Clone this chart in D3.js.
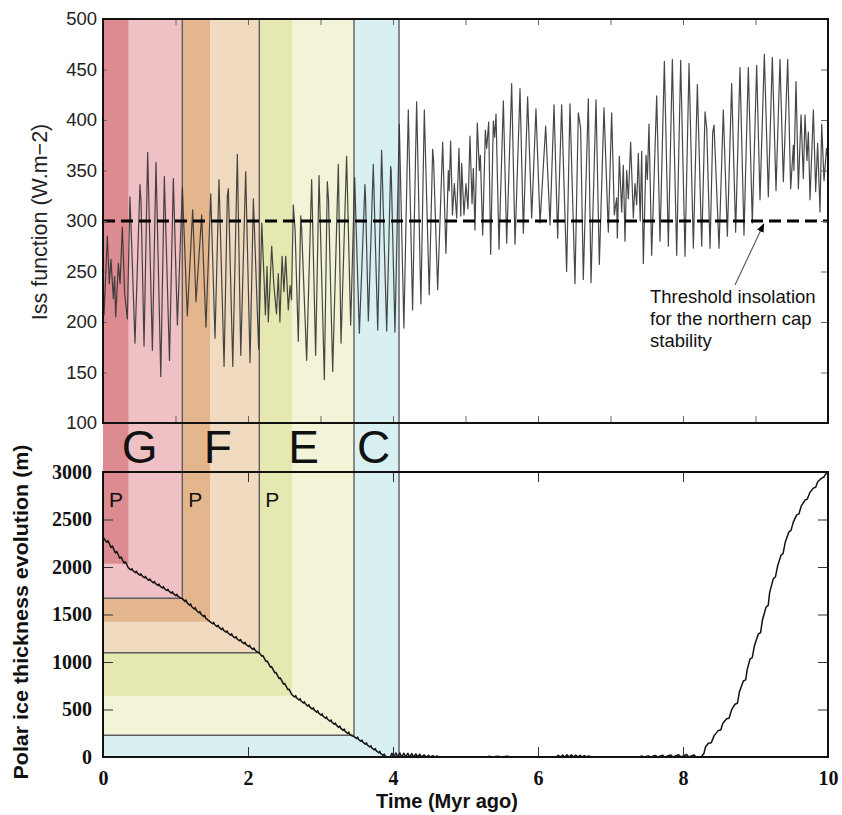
<!DOCTYPE html>
<html><head><meta charset="utf-8">
<script src="https://cdn.jsdelivr.net/npm/d3@7"></script>
<style>body{margin:0;background:#fff}svg{display:block}</style>
</head><body>
<script>
// ---------------- DATA ----------------
const phaseNames = ["G", "F", "E", "C"];
const phaseStart = [0, 1.094, 2.156, 3.462];
const phaseEnd = [1.094, 2.156, 3.462, 4.083];
const phaseDarkEnd = [0.35, 1.476, 2.607, null];
const phaseEndThickness = [1671, 1097, 229, 0];
const phaseDarkThickness = [2035, 1424, 644, null];
const phaseLight = ["#efc1c4", "#f0dbc1", "#f3f3d7", "#d8f0f1"];
const phaseDark = ["#dc8b90", "#e4b68d", "#e6e8b1", null];
const pPhases = [0, 1, 2];

const topYTicks = [100, 150, 200, 250, 300, 350, 400, 450, 500];
const topXTicks = [1, 2, 3, 4, 5, 6, 7, 8, 9];
const botYTicks = [0, 500, 1000, 1500, 2000, 2500, 3000];
const botXTicks = [0, 2, 4, 6, 8, 10];
const threshold = 300;
const annotationLines = ["Threshold insolation", "for the northern cap", "stability"];

// Iss function (W m-2) vs time (Myr ago)
const issSeries = [
[0,250],[0.014,207],[0.06,285],[0.087,238],[0.11,262],[0.143,223],[0.16,245],[0.175,205],[0.212,258],[0.235,238],[0.267,294],[0.299,228],[0.336,203],[0.372,324],
[0.40,268],[0.441,179],[0.51,336],[0.525,318],[0.566,176],[0.616,368],[0.681,172],[0.731,358],[0.797,146],[0.846,344],[0.917,162],[0.97,342],[1.026,197],[1.095,333],
[1.163,206],[1.237,311],[1.283,220],[1.361,306],[1.42,195],[1.486,327],[1.545,184],[1.600,341],[1.67,156],[1.715,325],[1.729,332],[1.79,156],[1.853,366],[1.90,167],[1.968,349],[2.028,160],[2.074,322],[2.147,173],
[2.19,298],[2.22,245],[2.24,207],[2.262,255],[2.28,200],[2.327,275],[2.355,238],[2.393,208],[2.418,248],[2.44,200],[2.47,265],[2.495,230],[2.52,265],[2.556,212],[2.58,236],[2.60,222],
[2.625,316],[2.65,290],[2.694,181],[2.727,305],[2.74,292],[2.809,162],[2.878,341],[2.933,167],[2.98,345],[3.053,143],[3.094,339],[3.11,322],[3.168,151],[3.246,356],[3.283,179],[3.36,364],[3.416,197],
[3.471,343],[3.536,189],[3.613,336],[3.62,326],[3.660,201],[3.728,356],[3.789,192],[3.843,370],[3.913,191],[3.968,354],[3.975,350],[4.027,190],[4.087,396],[4.15,194],[4.211,410],[4.27,212],[4.326,418],[4.385,218],[4.432,410],[4.50,227],[4.547,371],[4.56,360],[4.616,232],[4.685,378],[4.73,268],[4.763,350],[4.775,330],[4.795,379],[4.82,306],[4.846,337],[4.878,303],[4.91,372],[4.935,305],[4.947,357],[4.979,306],[5.007,337],[5.034,312],[5.062,384],[5.09,317],[5.108,352],[5.131,291],[5.163,397],[5.191,350],[5.205,365],[5.237,286],[5.274,390],[5.292,372],[5.32,398],[5.347,267],[5.384,399],[5.402,383],[5.421,406],[5.462,272],[5.522,419],[5.568,278],[5.637,436],[5.683,277],[5.752,431],[5.798,288],[5.857,423],[5.913,303],[5.972,411],[6.028,298],[6.106,394],[6.166,296],[6.221,415],[6.271,283],[6.326,415],[6.395,250],[6.441,416],[6.51,238],[6.556,407],[6.588,392],[6.625,242],[6.694,421],[6.731,239],[6.8,420],[6.846,257],[6.91,412],[6.97,289],[7.016,407],[7.053,306],[7.085,323],[7.094,283],[7.122,364],[7.154,309],[7.177,355],[7.2,280],[7.223,350],[7.246,322],[7.278,378],[7.315,303],[7.338,337],[7.361,316],[7.384,367],[7.41,300],[7.43,369],[7.453,258],[7.49,365],[7.508,341],[7.531,396],[7.568,266],[7.637,424],[7.683,280],[7.743,458],[7.798,275],[7.853,460],[7.913,266],[7.968,459],[8.028,265],[8.083,456],[8.143,273],[8.198,435],[8.258,275],[8.304,408],[8.327,392],[8.373,273],[8.41,388],[8.428,395],[8.497,273],[8.556,410],[8.612,285],[8.671,436],[8.726,289],[8.786,452],[8.841,286],[8.901,452],[8.956,298],[9.016,454],[9.062,321],[9.122,465],[9.177,324],[9.232,462],[9.283,330],[9.338,460],[9.384,339],[9.444,460],[9.485,332],[9.522,375],[9.53,350],[9.559,438],[9.591,332],[9.628,405],[9.66,342],[9.683,405],[9.71,360],[9.729,388],[9.752,321],[9.798,410],[9.83,329],[9.857,377],[9.89,309],[9.913,396],[9.945,340],[9.98,372],[10,360]
];

// Polar ice thickness (m) vs time (Myr ago)
const iceSeries = [
[0,2314],[0.05,2262],[0.07,2276],[0.11,2205],[0.13,2220],[0.17,2148],[0.19,2163],[0.23,2092],[0.25,2106],[0.29,2040],[0.31,2054],[0.35,1990],
[0.385,1968],[0.40,1982],[0.412,1963],[0.447,1941],[0.462,1955],[0.474,1936],[0.509,1914],[0.524,1928],[0.536,1909],[0.571,1887],[0.586,1901],[0.598,1882],[0.633,1860],[0.648,1874],[0.66,1855],[0.695,1833],[0.71,1847],[0.722,1828],[0.757,1806],[0.772,1820],[0.784,1801],[0.819,1779],[0.834,1793],[0.846,1774],[0.881,1752],[0.896,1766],[0.908,1747],[0.943,1725],[0.958,1739],[0.97,1720],[1.005,1698],[1.02,1712],[1.032,1693],[1.067,1674],[1.094,1667],
[1.13,1638],[1.145,1652],[1.158,1625],[1.194,1598],[1.209,1612],[1.222,1585],[1.258,1558],[1.273,1572],[1.286,1545],[1.322,1518],[1.337,1532],[1.35,1505],[1.386,1478],[1.401,1492],[1.414,1465],[1.45,1440],[1.476,1425],
[1.511,1403],[1.526,1417],[1.538,1395],[1.573,1373],[1.588,1387],[1.60,1365],[1.635,1343],[1.65,1357],[1.662,1335],[1.697,1313],[1.712,1327],[1.724,1305],[1.759,1283],[1.774,1297],[1.786,1275],[1.821,1253],[1.836,1267],[1.848,1245],[1.883,1223],[1.898,1237],[1.91,1215],[1.945,1193],[1.96,1207],[1.972,1185],[2.007,1163],[2.022,1177],[2.034,1155],[2.069,1133],[2.084,1147],[2.096,1125],[2.131,1105],[2.156,1097],
[2.19,1062],[2.205,1068],[2.25,1005],[2.265,1011],[2.31,945],[2.325,951],[2.37,885],[2.385,891],[2.43,826],[2.445,832],[2.49,768],[2.505,774],[2.55,710],[2.565,715],[2.607,655],
[2.642,632],[2.657,646],[2.668,624],[2.703,600],[2.718,614],[2.729,592],[2.764,568],[2.779,582],[2.79,560],[2.825,536],[2.84,550],[2.851,528],[2.886,504],[2.901,518],[2.912,496],[2.947,472],[2.962,486],[2.973,464],[3.008,440],[3.023,454],[3.034,432],[3.069,408],[3.084,422],[3.095,400],[3.13,376],[3.145,390],[3.156,368],[3.191,344],[3.206,358],[3.217,336],[3.252,312],[3.267,326],[3.278,304],[3.313,280],[3.328,294],[3.339,272],[3.374,248],[3.389,262],[3.40,240],[3.435,222],[3.462,215],
[3.497,195],[3.512,209],[3.523,187],[3.558,165],[3.573,179],[3.584,157],[3.619,135],[3.634,149],[3.645,127],[3.68,105],[3.695,119],[3.706,97],[3.741,75],[3.756,89],[3.767,67],[3.802,45],[3.817,59],[3.828,37],[3.863,18],[3.878,30],[3.89,10],[3.93,0],
[3.96,0],[3.985,40],[4.01,0],[4.04,42],[4.065,0],[4.095,42],[4.12,0],[4.15,40],[4.175,0],[4.205,38],[4.23,0],[4.26,36],[4.285,0],[4.315,32],[4.34,0],[4.37,28],[4.395,0],[4.43,22],[4.455,0],[4.49,18],[4.515,0],[4.55,14],[4.575,0],[4.61,10],[4.635,0],
[5.30,0],[5.33,8],[5.36,0],[5.45,8],[5.48,0],[5.58,8],[5.61,0],
[6.25,0],[6.28,18],[6.31,0],[6.34,20],[6.37,0],[6.40,22],[6.43,0],[6.46,22],[6.49,0],[6.52,20],[6.55,0],[6.58,18],[6.61,0],[6.64,14],[6.67,0],[6.70,10],[6.73,0],
[7.40,0],[7.43,10],[7.46,0],[7.52,12],[7.55,0],[7.62,16],[7.65,0],[7.72,18],[7.75,0],[7.83,22],[7.86,0],[7.94,24],[7.97,0],[8.05,26],[8.08,0],[8.15,22],[8.18,0],
[8.25,0],[8.29,40],[8.31,105],[8.35,145],[8.39,150],[8.43,225],[8.487,280],[8.52,285],[8.55,355],[8.602,402],[8.635,408],[8.67,495],[8.717,556],[8.75,565],[8.78,690],[8.832,800],[8.865,812],[8.885,920],[8.924,1030],[8.955,1045],[8.985,1170],[9.039,1295],[9.07,1310],[9.095,1440],[9.145,1578],[9.175,1595],[9.195,1730],[9.246,1878],[9.275,1895],[9.305,2010],[9.352,2125],[9.38,2140],[9.41,2260],[9.462,2370],[9.49,2385],[9.52,2470],[9.568,2548],[9.60,2560],[9.63,2640],[9.683,2705],[9.715,2715],[9.75,2785],[9.798,2830],[9.83,2840],[9.86,2900],[9.913,2935],[9.94,2945],[9.97,2980],[10,3000]
];

// ---------------- CHART ----------------
const W = 842, H = 815;
const SANS = "'Liberation Sans', Arial, Helvetica, sans-serif";
const SERIF = "'Liberation Serif', 'Times New Roman', serif";

const x = d3.scaleLinear().domain([0, 10]).range([103, 828]);
const yTop = d3.scaleLinear().domain([100, 500]).range([423, 19]);
const yBot = d3.scaleLinear().domain([0, 3000]).range([757, 472]);

const svg = d3.select("body").append("svg").attr("width", W).attr("height", H)
  .style("background", "#fff");

const defs = svg.append("defs");
defs.append("clipPath").attr("id", "clipTop").append("rect")
  .attr("x", x(0)).attr("y", yTop(500)).attr("width", x(10) - x(0)).attr("height", yTop(100) - yTop(500));
defs.append("clipPath").attr("id", "clipBot").append("rect")
  .attr("x", x(0)).attr("y", yBot(3000) - 2).attr("width", x(10) - x(0)).attr("height", yBot(0) - yBot(3000) + 2);
defs.append("marker").attr("id", "arrow").attr("viewBox", "0 0 10 10").attr("refX", 9).attr("refY", 5)
  .attr("markerWidth", 9).attr("markerHeight", 9).attr("markerUnits", "userSpaceOnUse").attr("orient", "auto")
  .append("path").attr("d", "M0,1 L10,5 L0,9 Z").attr("fill", "#000");

const order = [3, 2, 1, 0];
const gBands = svg.append("g");
order.forEach(i => {
  gBands.append("rect").attr("x", x(0)).attr("y", yTop(500))
    .attr("width", x(phaseEnd[i]) - x(0)).attr("height", yBot(3000) - yTop(500))
    .attr("fill", phaseLight[i]);
  if (phaseDarkEnd[i] !== null) {
    gBands.append("rect").attr("x", x(0)).attr("y", yTop(500))
      .attr("width", x(phaseDarkEnd[i]) - x(0)).attr("height", yBot(3000) - yTop(500))
      .attr("fill", phaseDark[i]);
  }
});
order.forEach(i => {
  gBands.append("rect").attr("x", x(0)).attr("y", yBot(3000))
    .attr("width", x(phaseEnd[i]) - x(0)).attr("height", yBot(phaseEndThickness[i]) - yBot(3000))
    .attr("fill", phaseLight[i]);
  if (phaseDarkEnd[i] !== null) {
    gBands.append("rect").attr("x", x(0)).attr("y", yBot(3000))
      .attr("width", x(phaseDarkEnd[i]) - x(0)).attr("height", yBot(phaseDarkThickness[i]) - yBot(3000))
      .attr("fill", phaseDark[i]);
  }
});
phaseEnd.forEach((e, i) => {
  svg.append("path")
    .attr("d", `M${x(e)},${yTop(500)}V${yBot(phaseEndThickness[i])}H${x(0)}`)
    .attr("fill", "none").attr("stroke", "#5d5d5d").attr("stroke-width", 1.4);
});

phaseNames.forEach((n, i) => {
  svg.append("text").attr("x", (x(phaseStart[i]) + x(phaseEnd[i])) / 2 - 3).attr("y", 463)
    .attr("text-anchor", "middle").style("font-family", SANS).attr("font-size", 46).attr("fill", "#111")
    .text(n);
});
pPhases.forEach(i => {
  svg.append("text").attr("x", x(phaseStart[i]) + 6).attr("y", 507)
    .style("font-family", SANS).attr("font-size", 21).attr("fill", "#111").text("P");
});

// ---- Top panel ----
const topG = svg.append("g");
topG.append("path").datum(issSeries)
  .attr("clip-path", "url(#clipTop)")
  .attr("d", d3.line().x(d => x(d[0])).y(d => yTop(d[1])))
  .attr("fill", "none").attr("stroke", "#333").attr("stroke-opacity", 0.9).attr("stroke-width", 1.2)
  .attr("stroke-linejoin", "round");
topG.append("line").attr("x1", x(0)).attr("x2", x(10)).attr("y1", yTop(threshold)).attr("y2", yTop(threshold))
  .attr("stroke", "#000").attr("stroke-width", 3).attr("stroke-dasharray", "12,6");

function styleAxis(g, color) {
  g.select(".domain").remove();
  g.selectAll(".tick line").attr("stroke", color).attr("stroke-width", 1);
}
const axL = topG.append("g").attr("transform", `translate(${x(0)},0)`)
  .call(d3.axisLeft(yTop).tickValues(topYTicks).tickSize(-4).tickPadding(6).tickFormat(d3.format("d")));
styleAxis(axL, "#666");
axL.selectAll("text").style("font-family", SANS).attr("font-size", 18.5).attr("fill", "#222");
axL.selectAll(".tick").filter(d => d === 100 || d === 500).select("line").remove();
const axR = topG.append("g").attr("transform", `translate(${x(10)},0)`)
  .call(d3.axisRight(yTop).tickValues(topYTicks.slice(1, -1)).tickSize(-7).tickFormat(""));
styleAxis(axR, "#666");
const axB = topG.append("g").attr("transform", `translate(0,${yTop(100)})`)
  .call(d3.axisBottom(x).tickValues(topXTicks).tickSize(-7).tickFormat(""));
styleAxis(axB, "#666");
const axT = topG.append("g").attr("transform", `translate(0,${yTop(500)})`)
  .call(d3.axisTop(x).tickValues(topXTicks).tickSize(-6).tickFormat(""));
styleAxis(axT, "#666");
topG.append("rect").attr("x", x(0)).attr("y", yTop(500)).attr("width", x(10) - x(0)).attr("height", yTop(100) - yTop(500))
  .attr("fill", "none").attr("stroke", "#111").attr("stroke-width", 2);

topG.append("text").attr("transform", `translate(47,222) rotate(-90)`).attr("text-anchor", "middle")
  .style("font-family", SANS).attr("font-size", 21.5).attr("fill", "#222").text("Iss function (W.m\u22122)");

const ann = topG.append("text").style("font-family", SANS).attr("font-size", 18.5).attr("fill", "#111");
annotationLines.forEach((t, k) => ann.append("tspan").attr("x", 650).attr("y", 303 + k * 22).text(t));
topG.append("line").attr("x1", 735).attr("y1", 285).attr("x2", x(9.1) + 1).attr("y2", yTop(threshold) + 3)
  .attr("stroke", "#555").attr("stroke-width", 1.1).attr("marker-end", "url(#arrow)");

// ---- Bottom panel ----
const botG = svg.append("g");
botG.append("path").datum(iceSeries)
  .attr("clip-path", "url(#clipBot)")
  .attr("d", d3.line().x(d => x(d[0])).y(d => yBot(d[1])))
  .attr("fill", "none").attr("stroke", "#111").attr("stroke-width", 1.5).attr("stroke-linejoin", "round");

const bL = botG.append("g").attr("transform", `translate(${x(0)},0)`)
  .call(d3.axisLeft(yBot).tickValues(botYTicks).tickSize(-10).tickPadding(11).tickFormat(d3.format("d")));
styleAxis(bL, "#333");
bL.selectAll("text").style("font-family", SERIF).style("font-weight", "bold").attr("font-size", 20).attr("fill", "#111");
const bR = botG.append("g").attr("transform", `translate(${x(10)},0)`)
  .call(d3.axisRight(yBot).tickValues(botYTicks.slice(1, -1)).tickSize(-10).tickFormat(""));
styleAxis(bR, "#333");
const bB = botG.append("g").attr("transform", `translate(0,${yBot(0)})`)
  .call(d3.axisBottom(x).tickValues(botXTicks).tickSize(-10).tickPadding(14).tickFormat(d3.format("d")));
styleAxis(bB, "#333");
bB.selectAll("text").style("font-family", SERIF).style("font-weight", "bold").attr("font-size", 20).attr("fill", "#111");
const bT = botG.append("g").attr("transform", `translate(0,${yBot(3000)})`)
  .call(d3.axisTop(x).tickValues(botXTicks.slice(1, -1)).tickSize(-10).tickFormat(""));
styleAxis(bT, "#333");
botG.append("rect").attr("x", x(0)).attr("y", yBot(3000)).attr("width", x(10) - x(0)).attr("height", yBot(0) - yBot(3000))
  .attr("fill", "none").attr("stroke", "#111").attr("stroke-width", 2);

botG.append("text").attr("transform", `translate(28,612) rotate(-90)`).attr("text-anchor", "middle")
  .style("font-family", SANS).style("font-weight", "bold").attr("font-size", 20).attr("fill", "#111")
  .attr("textLength", 335).attr("lengthAdjust", "spacingAndGlyphs")
  .text("Polar ice thickness evolution (m)");
botG.append("text").attr("x", 447).attr("y", 808).attr("text-anchor", "middle")
  .style("font-family", SANS).style("font-weight", "bold").attr("font-size", 20).attr("fill", "#111")
  .text("Time (Myr ago)");
</script>
</body></html>
